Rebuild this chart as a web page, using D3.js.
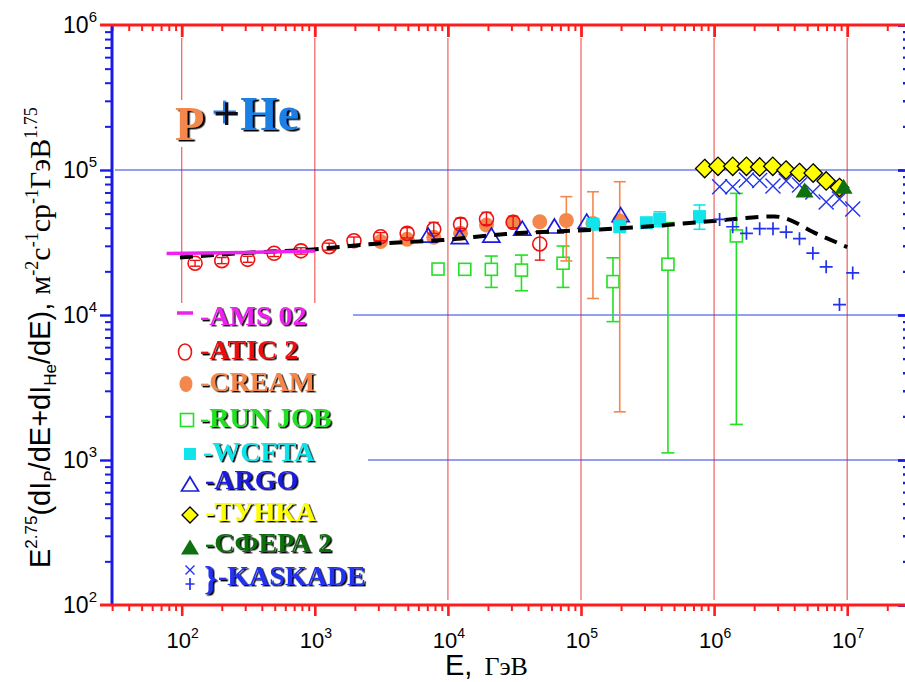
<!DOCTYPE html>
<html><head><meta charset="utf-8">
<script src="https://cdn.jsdelivr.net/npm/d3@7"></script>
<style>body{margin:0;background:#fff;overflow:hidden}</style>
</head><body>
<svg id="c" width="905" height="682"></svg>
<script>
// ---------------- DATA ----------------
const xTickExps = [2, 3, 4, 5, 6, 7];
const yTickExps = [2, 3, 4, 5, 6];

const amsE = [77, 300, 1000];
const amsV = [26600, 27000, 27600];

const aticE  = [126, 200, 313, 495, 787, 1282, 1968, 3120, 4940, 7830, 12440, 19500, 30900, 49000];
const aticV  = [22750, 23700, 24200, 26650, 27700, 29570, 32500, 34660, 36560, 39000, 42200, 45900, 43600, 30900];
const aticHi = [23800, 24900, 25400, 28000, 29100, 31300, 34500, 37000, 40000, 43500, 46500, 51000, 48000, 37500];
const aticLo = [21700, 22600, 23100, 25300, 26300, 28000, 30500, 32500, 34000, 36500, 39500, 42000, 40000, 23900];

const creamE  = [3120, 4940, 7830, 12440, 19500, 31000, 49000, 77600, 123000, 195500];
const creamV  = [32100, 33300, 34400, 36600, 41800, 43800, 44000, 44900, 42800, 44500];
const creamHi = [null, null, null, null, null, null, null, 65500, 70800, 83000];
const creamLo = [null, null, null, null, null, null, null, 23600, 13000, 2150];

const runjobE  = [8430, 13400, 21200, 35700, 73300, 173900, 450000, 1470000];
const runjobV  = [20750, 20650, 20650, 20400, 22750, 17000, 22400, 35100];
const runjobHi = [null, null, 25500, 25900, 29900, 24800, 43400, 69000];
const runjobLo = [null, null, 15500, 14700, 15500, 9000, 1120, 1760];

const wcftaE  = [123000, 195500, 310000, 390000, 777000];
const wcftaV  = [42300, 40700, 43300, 45700, 47700];
const wcftaHi = [null, null, null, 51500, 57400];
const wcftaLo = [null, null, null, 40700, 39000];

const argoE = [7100, 12270, 21200, 36200, 63100, 110400, 198600];
const argoV = [35600, 34700, 35600, 39700, 41100, 44400, 49200];

const tunkaE = [8.5e5, 1.07e6, 1.38e6, 1.75e6, 2.2e6, 2.76e6, 3.47e6, 4.38e6, 5.55e6, 6.95e6, 8.75e6];
const tunkaV = [102400, 106000, 106000, 106000, 105000, 106000, 100000, 96100, 95300, 84000, 75700];

const sferaE = [4.78e6, 9.4e6];
const sferaV = [72800, 77300];

const kaskE  = [1.10e6, 1.38e6, 1.75e6, 2.2e6, 2.77e6, 3.48e6, 4.38e6, 5.52e6, 6.95e6, 8.75e6, 1.10e7];
const kaskXV = [76700, 76700, 85300, 84700, 77600, 84000, 78800, 70500, 60200, 63100, 53800];
const kaskPV = [45600, 40600, 36600, 39400, 39400, 37300, 33600, 26700, 21500, 11800, 19500];

const modelE = [97, 298, 968, 2730, 9160, 27200, 116000, 312000, 879000, 2.85e6, 6.19e6, 1.0e7];
const modelV = [24900, 26800, 28300, 30900, 32900, 36200, 38600, 40700, 44100, 47800, 35600, 29400];

const legendNames = ["-AMS 02", "-ATIC 2", "-CREAM", "-RUN JOB", "-WCFTA", "-ARGO", "-ТУНКА", "-СФЕРА 2", "-KASKADE"];

// ---------------- COLORS ----------------
const C = {
  ams: "#ee22ee", atic: "#ee1111", cream: "#f4874b", runjob: "#22e022", wcfta: "#11e4ea",
  argo: "#1c1cdc", tunka: "#ffff00", sfera: "#0e700e", kask: "#2233ee",
  axisRed: "#ff1c1c", axisBlue: "#1a1ae6", gridRed: "#f06c6c", gridBlue: "#2e3fe8"
};

const svg = d3.select("#c");
const defs = svg.append("defs");
function shadowFilter(id, dx, dy, color) {
  defs.append("filter").attr("id", id).attr("x", "-20%").attr("y", "-20%").attr("width", "140%").attr("height", "140%")
    .append("feDropShadow").attr("dx", dx).attr("dy", dy).attr("stdDeviation", 0)
    .attr("flood-color", color).attr("flood-opacity", 1);
}
shadowFilter("shL", 1.6, 1.4, "#000");
shadowFilter("shT", 2.5, 1.5, "#000");
shadowFilter("shP", -2, -1.5, "#1a7fe6");

const X0 = 112, X1 = 907, Y0 = 605, Y1 = 25;
const x = d3.scaleLog().domain([1e2, 1e7]).range([181.7, 847.2]);
const y = d3.scaleLog().domain([1e2, 1e6]).range([605, 25]);
const xa = d3.scaleLog().domain([x.invert(X0), x.invert(X1)]).range([X0, X1]);

// ticks
const xMajor = xTickExps.map(e => Math.pow(10, e));
const yMajor = yTickExps.map(e => Math.pow(10, e));
const xMinor = xa.ticks().filter(v => !xMajor.some(m => Math.abs(m - v) / m < 1e-9));
const yMinor = y.ticks().filter(v => !yMajor.some(m => Math.abs(m - v) / m < 1e-9));

// ---------------- GRID ----------------
const grid = svg.append("g");
grid.selectAll("line.v").data(xMajor).join("line")
  .attr("x1", d => x(d)).attr("x2", d => x(d)).attr("y1", 38).attr("y2", 600)
  .attr("stroke", C.gridRed).attr("stroke-width", 1.3);
const hStart = {1e5: 115, 1e4: 353, 1e3: 368};
grid.selectAll("line.h").data([1e5, 1e4, 1e3]).join("line")
  .attr("x1", d => hStart[d]).attr("x2", 903).attr("y1", d => y(d)).attr("y2", d => y(d))
  .attr("stroke", C.gridBlue).attr("stroke-width", 1.2);

// white boxes (legend & title backgrounds)
svg.append("rect").attr("x", 160).attr("y", 303).attr("width", 193).attr("height", 299).attr("fill", "#fff");
svg.append("rect").attr("x", 353).attr("y", 330).attr("width", 15).attr("height", 272).attr("fill", "#fff");
svg.append("rect").attr("x", 172).attr("y", 100).attr("width", 40).attr("height", 47).attr("fill", "#fff");

// ---------------- AXES ----------------
const ax = svg.append("g");
function styleAxis(g, color, w) {
  g.select(".domain").remove();
  g.selectAll(".tick line").attr("stroke", color).attr("stroke-width", w);
  g.selectAll(".tick text").remove();
}
ax.append("g").attr("transform", `translate(0,${Y0})`)
  .call(d3.axisBottom(xa).tickValues(xMinor).tickSize(6).tickFormat(""))
  .call(g => styleAxis(g, C.axisRed, 2));
ax.append("g").attr("transform", `translate(0,${Y0})`)
  .call(d3.axisBottom(xa).tickValues(xMajor).tickSize(11).tickFormat(""))
  .call(g => styleAxis(g, C.axisRed, 2.6));
ax.append("g").attr("transform", `translate(0,${Y1})`)
  .call(d3.axisBottom(xa).tickValues(xMinor).tickSize(6).tickFormat(""))
  .call(g => styleAxis(g, C.axisRed, 2));
ax.append("g").attr("transform", `translate(0,${Y1})`)
  .call(d3.axisBottom(xa).tickValues(xMajor).tickSize(12).tickFormat(""))
  .call(g => styleAxis(g, C.axisRed, 2.8));
ax.append("g").attr("transform", `translate(${X0},0)`)
  .call(d3.axisLeft(y).tickValues(yMinor).tickSize(7).tickFormat(""))
  .call(g => styleAxis(g, C.axisBlue, 2));
ax.append("g").attr("transform", `translate(${X0},0)`)
  .call(d3.axisLeft(y).tickValues([1e3, 1e4, 1e5]).tickSize(12).tickFormat(""))
  .call(g => styleAxis(g, C.axisBlue, 2.4));
ax.append("g").attr("transform", `translate(${X1},0)`)
  .call(d3.axisLeft(y).tickValues(yMinor).tickSize(4).tickFormat(""))
  .call(g => styleAxis(g, C.axisBlue, 2.4));
ax.append("g").attr("transform", `translate(${X1},0)`)
  .call(d3.axisLeft(y).tickValues(yMajor).tickSize(9).tickFormat(""))
  .call(g => styleAxis(g, C.axisBlue, 2.8));
ax.append("line").attr("x1", X0).attr("x2", X0).attr("y1", Y1).attr("y2", Y0).attr("stroke", C.axisBlue).attr("stroke-width", 3);
ax.append("line").attr("x1", X1).attr("x2", X1).attr("y1", Y1).attr("y2", Y0).attr("stroke", C.axisBlue).attr("stroke-width", 3);
ax.append("line").attr("x1", 100).attr("x2", 905).attr("y1", Y0).attr("y2", Y0).attr("stroke", C.axisRed).attr("stroke-width", 3);
ax.append("line").attr("x1", 100).attr("x2", 905).attr("y1", Y1).attr("y2", Y1).attr("stroke", C.axisRed).attr("stroke-width", 3);

// tick labels
const sans = "'Liberation Sans', Arial, sans-serif";
const serif = "'Liberation Serif', 'Times New Roman', serif";
xTickExps.forEach(e => {
  const t = svg.append("text").attr("x", x(Math.pow(10, e)) + 1).attr("y", 648)
    .attr("text-anchor", "middle").attr("font-family", sans).attr("font-size", 22).attr("fill", "#000");
  t.append("tspan").text("10");
  t.append("tspan").attr("font-size", 14).attr("dy", -10).text(e);
});
yTickExps.forEach(e => {
  const t = svg.append("text").attr("x", 97).attr("y", y(Math.pow(10, e)) + 8)
    .attr("text-anchor", "end").attr("font-family", sans).attr("font-size", 23).attr("fill", "#000");
  t.append("tspan").text("10");
  t.append("tspan").attr("font-size", 15).attr("dy", -11).text(e);
});

// axis titles
const xt = svg.append("text").attr("x", 445).attr("y", 675).attr("font-family", sans).attr("font-size", 29).attr("fill", "#000");
xt.append("tspan").text("E,");
xt.append("tspan").attr("font-family", serif).attr("font-size", 26).attr("dx", 12).text("ГэВ");

const yt = svg.append("text").attr("transform", "translate(50,568) rotate(-90)")
  .attr("font-family", sans).attr("font-size", 29).attr("fill", "#000");
const ytParts = [
  ["E", 29, 0, sans], ["2.75", 17, -13, sans], ["(dI", 29, 13, sans], ["P", 17, 6, sans],
  ["/dE+dI", 29, -6, sans], ["He", 17, 6, sans], ["/dE), ", 29, -6, sans],
  ["м", 30, 0, serif], ["-2", 18, -12, serif], ["с", 30, 12, serif], ["-1", 18, -12, serif],
  ["ср", 30, 12, serif], ["-1", 18, -12, serif], ["ГэВ", 30, 12, serif], ["1.75", 18, -13, serif]
];
ytParts.forEach(p => yt.append("tspan").attr("font-size", p[1]).attr("dy", p[2]).attr("font-family", p[3]).text(p[0]));

// ---------------- MARKERS ----------------
function errBar(g, cx, lo, hi, color, cap, w) {
  if (lo == null || hi == null) return;
  g.append("line").attr("x1", cx).attr("x2", cx).attr("y1", y(lo)).attr("y2", y(hi)).attr("stroke", color).attr("stroke-width", w);
  [lo, hi].forEach(v => g.append("line").attr("x1", cx - cap).attr("x2", cx + cap).attr("y1", y(v)).attr("y2", y(v)).attr("stroke", color).attr("stroke-width", w));
}
const M = {
  circleOpen: (g, cx, cy, rx = 7, ry = 7) => g.append("ellipse").attr("cx", cx).attr("cy", cy).attr("rx", rx).attr("ry", ry).attr("fill", "none").attr("stroke", C.atic).attr("stroke-width", 1.6),
  circleFill: (g, cx, cy, rx = 7.5, ry = 7.5) => g.append("ellipse").attr("cx", cx).attr("cy", cy).attr("rx", rx).attr("ry", ry).attr("fill", C.cream),
  squareOpen: (g, cx, cy, s = 12) => g.append("rect").attr("x", cx - s / 2).attr("y", cy - s / 2).attr("width", s).attr("height", s).attr("fill", "#fff").attr("stroke", C.runjob).attr("stroke-width", 1.6),
  squareFill: (g, cx, cy, s = 13) => g.append("rect").attr("x", cx - s / 2).attr("y", cy - s / 2).attr("width", s).attr("height", s).attr("fill", C.wcfta),
  triOpen: (g, cx, cy, w = 17, h = 14) => g.append("path").attr("d", `M${cx},${cy - h / 2}L${cx + w / 2},${cy + h / 2}L${cx - w / 2},${cy + h / 2}Z`).attr("fill", "none").attr("stroke", C.argo).attr("stroke-width", 1.7),
  diamond: (g, cx, cy, r = 9.2) => g.append("path").attr("d", `M${cx},${cy - r}L${cx + r},${cy}L${cx},${cy + r}L${cx - r},${cy}Z`).attr("fill", C.tunka).attr("stroke", "#000").attr("stroke-width", 1.3),
  triFill: (g, cx, cy, w = 18, h = 15) => g.append("path").attr("d", `M${cx},${cy - h / 2}L${cx + w / 2},${cy + h / 2}L${cx - w / 2},${cy + h / 2}Z`).attr("fill", C.sfera),
  cross: (g, cx, cy, r = 7.5) => g.append("path").attr("d", `M${cx - r},${cy - r}L${cx + r},${cy + r}M${cx + r},${cy - r}L${cx - r},${cy + r}`).attr("stroke", C.kask).attr("stroke-width", 1.4).attr("fill", "none"),
  plus: (g, cx, cy, rx = 6.5, ry = 6.5) => g.append("path").attr("d", `M${cx - rx},${cy}L${cx + rx},${cy}M${cx},${cy - ry}L${cx},${cy + ry}`).attr("stroke", C.kask).attr("stroke-width", 1.7).attr("fill", "none")
};

const plot = svg.append("g");
runjobE.forEach((e, i) => errBar(plot, x(e), runjobLo[i], runjobHi[i], C.runjob, 6.5, 1.6));
runjobE.forEach((e, i) => M.squareOpen(plot, x(e), y(runjobV[i])));
creamE.forEach((e, i) => errBar(plot, x(e), creamLo[i], creamHi[i], C.cream, 6, 1.6));
creamE.forEach((e, i) => M.circleFill(plot, x(e), y(creamV[i])));
aticE.forEach((e, i) => errBar(plot, x(e), aticLo[i], aticHi[i], C.atic, 5, 1.4));
aticE.forEach((e, i) => M.circleOpen(plot, x(e), y(aticV[i])));
argoE.forEach((e, i) => M.triOpen(plot, x(e), y(argoV[i])));
wcftaE.forEach((e, i) => errBar(plot, x(e), wcftaLo[i], wcftaHi[i], C.wcfta, 6, 1.6));
wcftaE.forEach((e, i) => M.squareFill(plot, x(e), y(wcftaV[i])));
plot.append("path").datum(modelE.map((e, i) => [e, modelV[i]]))
  .attr("d", d3.line().x(d => x(d[0])).y(d => y(d[1])).curve(d3.curveMonotoneX))
  .attr("fill", "none").attr("stroke", "#000").attr("stroke-width", 4).attr("stroke-dasharray", "13,8");
plot.append("path").datum(amsE.map((e, i) => [e, amsV[i]]))
  .attr("d", d3.line().x(d => x(d[0])).y(d => y(d[1])))
  .attr("fill", "none").attr("stroke", C.ams).attr("stroke-width", 3.5);
kaskE.forEach((e, i) => M.cross(plot, x(e), y(kaskXV[i])));
kaskE.forEach((e, i) => M.plus(plot, x(e), y(kaskPV[i])));
tunkaE.forEach((e, i) => M.diamond(plot, x(e), y(tunkaV[i])));
sferaE.forEach((e, i) => M.triFill(plot, x(e), y(sferaV[i])));

// ---------------- TITLE ----------------
function sText(g, tx, ty, str, color, size, family, filt) {
  return g.append("text").attr("x", tx).attr("y", ty).attr("font-family", family).attr("font-weight", "bold")
    .attr("font-size", size).attr("fill", color).attr("filter", `url(#${filt})`).text(str);
}
const title = svg.append("g");
sText(title, 175, 140, "P", C.cream, 48, serif, "shT");
const th = title.append("text").attr("x", 213).attr("y", 130).attr("font-family", serif).attr("font-weight", "bold").attr("font-size", 48);
th.append("tspan").attr("fill", "#0a0a1a").attr("filter", "url(#shP)").text("+");
th.append("tspan").attr("fill", "#1a7fe6").attr("filter", "url(#shT)").text("He");

// ---------------- LEGEND ----------------
const lg = svg.append("g");
const legColors = [C.ams, C.atic, C.cream, C.runjob, C.wcfta, C.argo, C.tunka, C.sfera, C.kask];
const legRows = [
  {sx: 185, sy: 313, tx: 200, ty: 325},
  {sx: 185, sy: 352, tx: 200, ty: 359},
  {sx: 186, sy: 384, tx: 200, ty: 391},
  {sx: 187, sy: 420, tx: 200, ty: 427},
  {sx: 190, sy: 454, tx: 203, ty: 461},
  {sx: 190, sy: 484, tx: 205, ty: 489},
  {sx: 190, sy: 515, tx: 205, ty: 521},
  {sx: 190, sy: 547, tx: 205, ty: 552},
  {sx: 190, sy: 577, tx: 218, ty: 585}
];
legRows.forEach((r, i) => sText(lg, r.tx, r.ty, legendNames[i], legColors[i], 28, serif, "shL"));
lg.append("line").attr("x1", 177).attr("x2", 193).attr("y1", legRows[0].sy).attr("y2", legRows[0].sy).attr("stroke", C.ams).attr("stroke-width", 3.5);
M.circleOpen(lg, legRows[1].sx, legRows[1].sy, 6.5, 8);
M.circleFill(lg, legRows[2].sx, legRows[2].sy, 6.5, 8);
M.squareOpen(lg, legRows[3].sx, legRows[3].sy, 13);
M.squareFill(lg, legRows[4].sx, legRows[4].sy, 12);
M.triOpen(lg, legRows[5].sx, legRows[5].sy, 17, 14);
M.diamond(lg, legRows[6].sx, legRows[6].sy, 8);
M.triFill(lg, legRows[7].sx, legRows[7].sy, 18, 15);
M.cross(lg, 190, 570, 4.5);
M.plus(lg, 190, 584, 4.5, 6);
sText(lg, 204, 590, "}", C.kask, 34, serif, "shL");
</script>
</body></html>
